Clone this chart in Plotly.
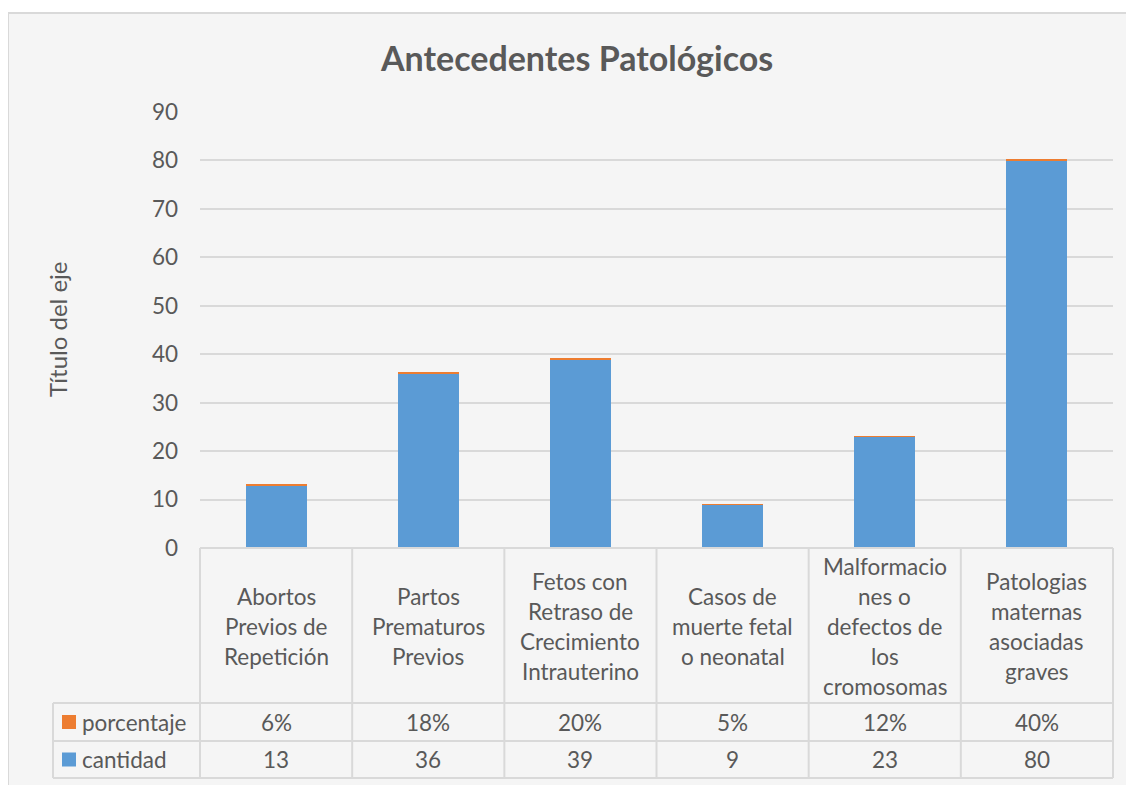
import plotly.graph_objects as go

# datos
categorias = [
    "Abortos<br>Previos de<br>Repetición",
    "Partos<br>Prematuros<br>Previos",
    "Fetos con<br>Retraso de<br>Crecimiento<br>Intrauterino",
    "Casos de<br>muerte fetal<br>o neonatal",
    "Malformacio<br>nes o<br>defectos de<br>los<br>cromosomas",
    "Patologias<br>maternas<br>asociadas<br>graves",
]
cantidad = [13, 36, 39, 9, 23, 80]
porcentaje = [0.06, 0.18, 0.20, 0.05, 0.12, 0.40]
etiquetas_pct = ["6%", "18%", "20%", "5%", "12%", "40%"]

# la pagina tiene 8px de margen en el body: la figura empieza en (8, 8)
OFF = 8
W, H = 1134 - OFF, 785 - OFF
AZUL = "#5B9BD5"
NARANJA = "#ED7D31"
GRIS_TXT = "#595959"
GRIS_LIN = "#D9D9D9"
FUENTE = "Lato"
TAM = 22.5


def px(x):
    return (x - OFF) / W


def py(y):
    return 1 - (y - OFF) / H


# limites del area de trazado (pixeles de la imagen)
x0, x1 = 200, 1113
y_top, y_base = 112, 548
fila_pct, fila_cant, fila_fin = 703, 741, 778
col_leyenda = 53

fig = go.Figure()
x_idx = list(range(len(categorias)))

fig.add_trace(go.Bar(x=x_idx, y=cantidad, name="cantidad", marker_color=AZUL,
                     marker_line_width=0, width=0.4))
fig.add_trace(go.Bar(x=x_idx, y=porcentaje, name="porcentaje", marker_color=NARANJA,
                     marker_line_width=0, width=0.4))

shapes = []
annotations = []

# fondo y borde del grafico
shapes.append(dict(type="rect", xref="paper", yref="paper", x0=px(8), x1=px(1133), y0=py(790), y1=py(13),
                   fillcolor="#F5F5F5", line=dict(color=GRIS_LIN, width=2), layer="below"))

# tabla de datos
n = len(categorias)
ancho_col = (x1 - x0) / n
for i in range(n + 1):
    xc = x0 + i * ancho_col
    shapes.append(dict(type="line", xref="paper", yref="paper", x0=px(xc), x1=px(xc),
                       y0=py(y_base), y1=py(fila_fin), line=dict(color=GRIS_LIN, width=2)))
shapes.append(dict(type="line", xref="paper", yref="paper", x0=px(x0), x1=px(x1),
                   y0=py(y_base), y1=py(y_base), line=dict(color=GRIS_LIN, width=2)))
for yy in [fila_pct, fila_cant, fila_fin]:
    shapes.append(dict(type="line", xref="paper", yref="paper", x0=px(col_leyenda), x1=px(x1),
                       y0=py(yy), y1=py(yy), line=dict(color=GRIS_LIN, width=2)))
shapes.append(dict(type="line", xref="paper", yref="paper", x0=px(col_leyenda), x1=px(col_leyenda),
                   y0=py(fila_pct), y1=py(fila_fin), line=dict(color=GRIS_LIN, width=2)))

# claves de leyenda
for (ya, yb), color, nombre in [((fila_pct, fila_cant), NARANJA, "porcentaje"),
                                ((fila_cant, fila_fin), AZUL, "cantidad")]:
    ym = (ya + yb) / 2
    shapes.append(dict(type="rect", xref="paper", yref="paper", x0=px(62), x1=px(76),
                       y0=py(ym + 7), y1=py(ym - 7), fillcolor=color, line=dict(width=0)))
    annotations.append(dict(x=px(80), y=py(ym), xref="paper", yref="paper", text=nombre,
                            showarrow=False, xanchor="left", yanchor="middle",
                            font=dict(size=TAM, color=GRIS_TXT, family=FUENTE)))

# textos de la tabla
y_centro_cab = 626.5
for i, cat in enumerate(categorias):
    lineas = cat.split("<br>")
    for j, linea in enumerate(lineas):
        yl = y_centro_cab + (j - (len(lineas) - 1) / 2) * 29.8
        annotations.append(dict(x=i, y=py(yl), xref="x", yref="paper", text=linea, showarrow=False,
                                yanchor="middle", font=dict(size=TAM, color=GRIS_TXT, family=FUENTE)))
    annotations.append(dict(x=i, y=py((fila_pct + fila_cant) / 2), xref="x", yref="paper",
                            text=etiquetas_pct[i], showarrow=False, yanchor="middle",
                            font=dict(size=TAM, color=GRIS_TXT, family=FUENTE)))
    annotations.append(dict(x=i, y=py((fila_cant + fila_fin) / 2), xref="x", yref="paper",
                            text=str(cantidad[i]), showarrow=False, yanchor="middle",
                            font=dict(size=TAM, color=GRIS_TXT, family=FUENTE)))

# titulo del eje
annotations.append(dict(x=px(57), y=py(330), xref="paper", yref="paper", text="Título del eje",
                        textangle=-90, showarrow=False, xanchor="center", yanchor="middle",
                        font=dict(size=24, color=GRIS_TXT, family=FUENTE)))

# titulo del grafico
annotations.append(dict(x=px(576), y=py(57), xref="paper", yref="paper",
                        text="<b>Antecedentes Patológicos</b>", showarrow=False,
                        xanchor="center", yanchor="middle",
                        font=dict(size=34, color=GRIS_TXT, family=FUENTE)))

fig.update_layout(
    width=W, height=H,
    margin=dict(l=0, r=0, t=0, b=0),
    paper_bgcolor="white",
    plot_bgcolor="rgba(0,0,0,0)",
    barmode="stack",
    showlegend=False,
    xaxis=dict(domain=[px(x0), px(x1)], range=[-0.5, n - 0.5], showticklabels=False,
               showgrid=False, zeroline=False, ticks="", automargin=False),
    yaxis=dict(domain=[py(y_base), py(y_top)], range=[0, 90], dtick=10, showgrid=True,
               gridcolor=GRIS_LIN, gridwidth=2, zeroline=False, ticks="", automargin=False,
               tickfont=dict(size=TAM, color=GRIS_TXT, family=FUENTE), ticklabelstandoff=21),
    shapes=shapes,
    annotations=annotations,
)

fig.write_html("out.html")
